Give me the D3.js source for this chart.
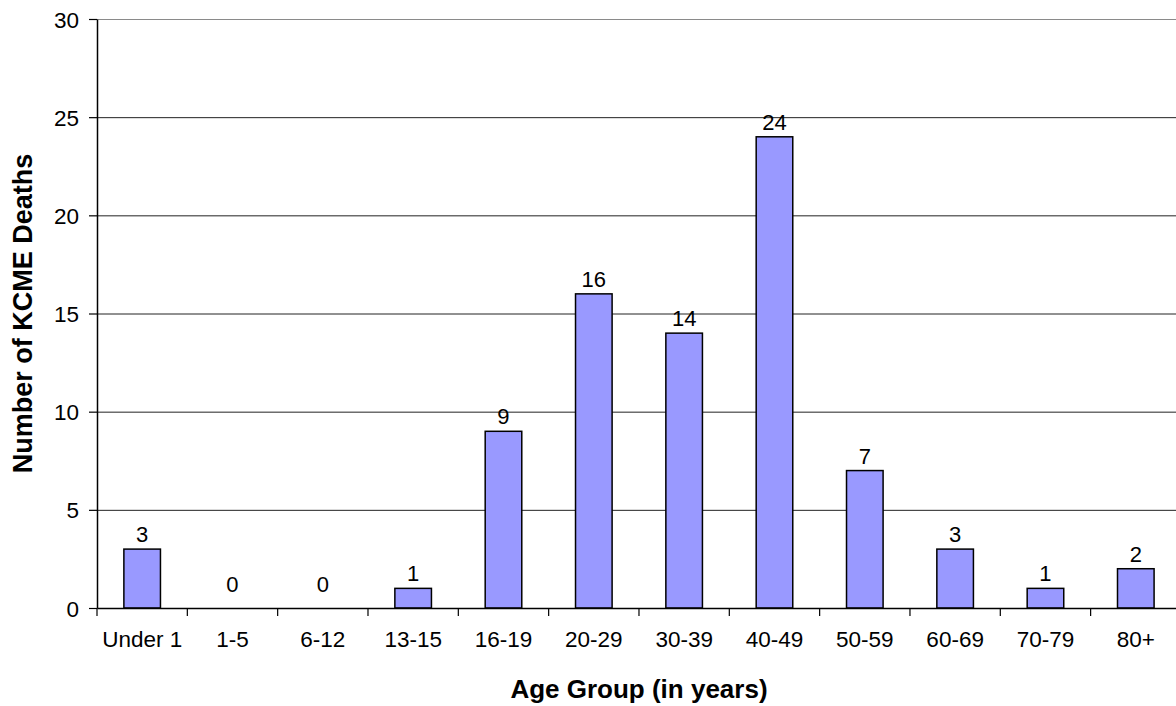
<!DOCTYPE html>
<html>
<head>
<meta charset="utf-8">
<script src="https://cdn.jsdelivr.net/npm/d3@7"></script>
<style>
  body { margin: 0; background: #fff; }
  svg { display: block; font-family: "Liberation Sans", Arial, sans-serif; }
  .tick text { font-size: 22.5px; fill: #000; }
  .axisLabel { font-size: 26px; font-weight: bold; fill: #000; }
  .barLabel { font-size: 22px; fill: #000; }
</style>
</head>
<body>
<div id="chart"></div>
<script>
// data
const ageGroups = ['Under 1', '1-5', '6-12', '13-15', '16-19', '20-29', '30-39', '40-49', '50-59', '60-69', '70-79', '80+'];
const deaths = [3, 0, 0, 1, 9, 16, 14, 24, 7, 3, 1, 2];
const yTicks = [0, 5, 10, 15, 20, 25, 30];

const xLabelText = 'Age Group (in years)';
const yLabelText = 'Number of KCME Deaths';

let margin = { top: 19, left: 97, right: 0, bottom: 98 },
  totalWidth = 1176,
  totalHeight = 706,
  width = 12 * 90.33,          // plot runs a little past the right edge
  height = totalHeight - margin.top - margin.bottom;

let data = ageGroups.map((g, i) => ({ group: g, value: deaths[i] }));

let svg = d3.select('#chart')
  .append('svg')
    .attr('width', totalWidth)
    .attr('height', totalHeight);

let g = svg.append('g')
    .attr('transform', 'translate(' + margin.left + ',' + margin.top + ')');

let xScale = d3.scaleBand()
  .domain(ageGroups)
  .range([0, width])
  .paddingInner(0.595)
  .paddingOuter(0.2975);

let yScale = d3.scaleLinear()
  .domain([0, 30])
  .range([height, 0]);

// gridlines
g.append('g')
  .selectAll('line')
  .data(yTicks.filter(d => d > 0))
  .enter().append('line')
    .attr('x1', 0)
    .attr('x2', width)
    .attr('y1', d => yScale(d) + 0.5)
    .attr('y2', d => yScale(d) + 0.5)
    .attr('stroke', d => d === 30 ? '#8a8a8a' : '#222')
    .attr('stroke-width', 1);

// bars
g.append('g')
  .selectAll('rect')
  .data(data.filter(d => d.value > 0))
  .enter().append('rect')
    .attr('x', d => xScale(d.group))
    .attr('y', d => yScale(d.value))
    .attr('width', xScale.bandwidth())
    .attr('height', d => yScale(0) - yScale(d.value))
    .attr('fill', '#9999ff')
    .attr('stroke', '#000')
    .attr('stroke-width', 1.5);

// value labels
g.append('g')
  .selectAll('text')
  .data(data)
  .enter().append('text')
    .attr('class', 'barLabel')
    .attr('x', d => xScale(d.group) + xScale.bandwidth() / 2)
    .attr('y', d => yScale(d.value) - (d.value === 0 ? 16 : 7))
    .attr('text-anchor', 'middle')
    .text(d => d.value);

// y axis
let yAxis = g.append('g')
  .call(d3.axisLeft(yScale).tickValues(yTicks).tickSize(8).tickPadding(10).tickSizeOuter(0));
yAxis.select('.domain').attr('stroke', '#000').attr('stroke-width', 1.5);
yAxis.selectAll('.tick line').attr('stroke', '#000').attr('stroke-width', 1.2);
yAxis.selectAll('.tick text').attr('dy', '0.36em');

// x axis: ticks sit between the categories
let xAxis = g.append('g')
  .attr('transform', 'translate(0,' + height + ')')
  .call(d3.axisBottom(xScale).tickSize(0).tickPadding(23).tickSizeOuter(0));
xAxis.select('.domain').attr('stroke', '#000').attr('stroke-width', 1.5);

let step = xScale.step();
xAxis.append('g')
  .selectAll('line')
  .data(d3.range(ageGroups.length + 1))
  .enter().append('line')
    .attr('x1', i => i * step)
    .attr('x2', i => i * step)
    .attr('y1', 0)
    .attr('y2', 8)
    .attr('stroke', '#000')
    .attr('stroke-width', 1.2);

// axis titles
svg.append('text')
  .attr('class', 'axisLabel')
  .attr('x', margin.left + width / 2)
  .attr('y', 698)
  .attr('text-anchor', 'middle')
  .text(xLabelText);

svg.append('text')
  .attr('class', 'axisLabel')
  .attr('transform', 'translate(32,' + (margin.top + height / 2) + ') rotate(-90)')
  .attr('text-anchor', 'middle')
  .style('font-size', '27px')
  .text(yLabelText);
</script>
</body>
</html>
